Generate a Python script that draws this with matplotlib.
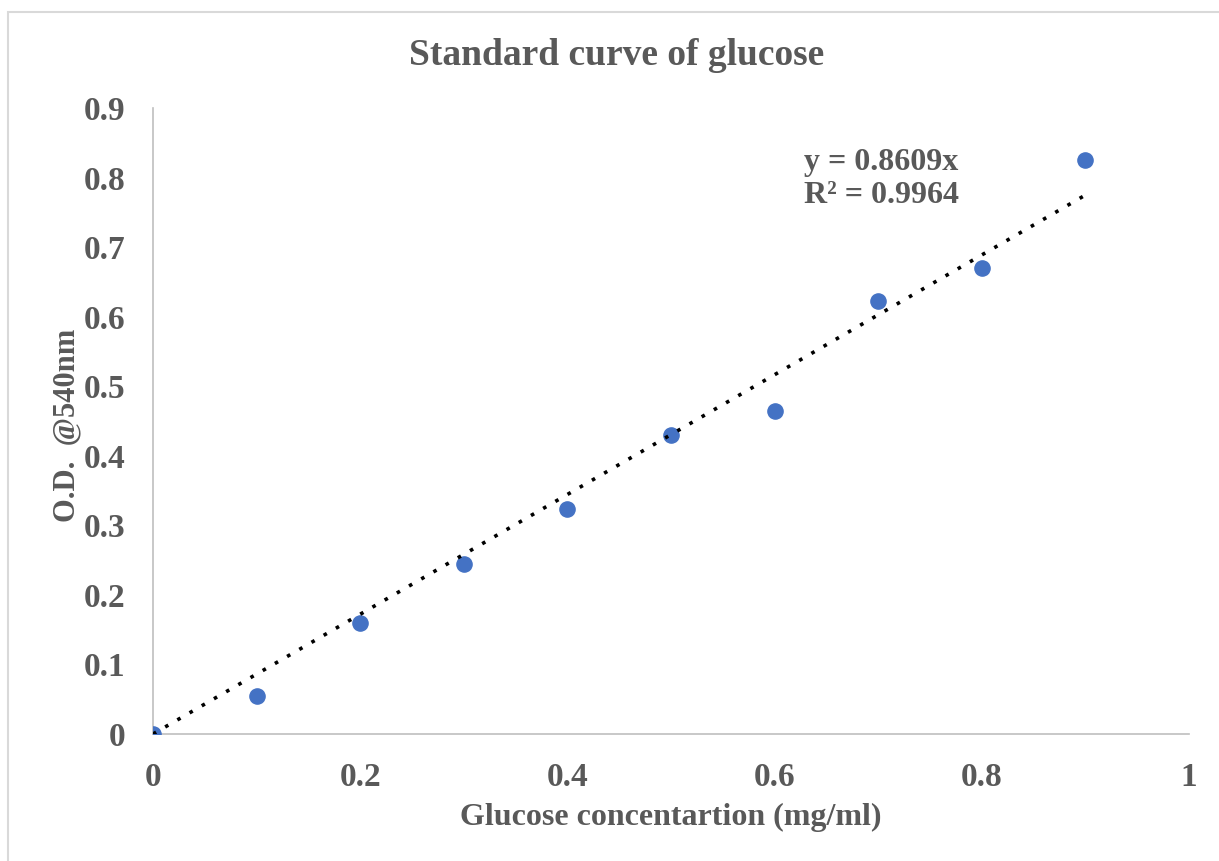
import matplotlib
matplotlib.use('Agg')
import matplotlib.pyplot as plt
from matplotlib.patches import Rectangle

# glucose standards (mg/ml) and absorbance at 540 nm
concentration = [0.0, 0.1, 0.2, 0.3, 0.4, 0.5, 0.6, 0.7, 0.8, 0.9]
absorbance = [0.0, 0.055, 0.160, 0.244, 0.323, 0.430, 0.464, 0.622, 0.670, 0.825]

# linear fit through the origin
slope = 0.8609
r_squared = 0.9964

x_ticks = [0, 0.2, 0.4, 0.6, 0.8, 1]
y_ticks = [0, 0.1, 0.2, 0.3, 0.4, 0.5, 0.6, 0.7, 0.8, 0.9]

grey = '#595959'
plt.rcParams['font.family'] = ['Liberation Serif', 'DejaVu Serif']
plt.rcParams['font.weight'] = 'bold'

fig = plt.figure(figsize=(12.19, 8.61), dpi=100)
ax = fig.add_axes([0.1255, 0.1475, 0.8499, 0.7271])

# chart border
fig.patches.append(Rectangle((8 / 1219, -0.05), 1.1, 1 - 12 / 861 + 0.05,
                             transform=fig.transFigure, fill=False,
                             edgecolor='#d9d9d9', linewidth=1.5))

ax.scatter(concentration, absorbance, s=120, color='#4472C4', zorder=3)

fit_x = [concentration[0], concentration[-1]]
fit_y = [slope * v for v in fit_x]
ax.plot(fit_x, fit_y, color='black', linewidth=2.6, linestyle=(0, (1, 2.9)), zorder=4)

ax.text(0.628, 0.798, 'y = {:.4f}x\nR² = {:.4f}'.format(slope, r_squared),
        fontsize=23, color=grey, fontweight='bold', linespacing=1.2,
        va='center', ha='left')

ax.set_xlim(0, 1)
ax.set_ylim(0, 0.9)
ax.set_xticks(x_ticks)
ax.set_yticks(y_ticks)
ax.set_xticklabels(['{:g}'.format(t) for t in x_ticks])
ax.set_yticklabels(['{:g}'.format(t) for t in y_ticks])
ax.tick_params(length=0, labelsize=24, labelcolor=grey)
ax.tick_params(axis='x', pad=20)
ax.tick_params(axis='y', pad=20)

for side in ['top', 'right']:
    ax.spines[side].set_visible(False)
for side in ['left', 'bottom']:
    ax.spines[side].set_color('#bfbfbf')
    ax.spines[side].set_linewidth(1.2)

fig.text(0.506, 0.935, 'Standard curve of glucose', ha='center', va='center',
         fontsize=27, color=grey, fontweight='bold')
fig.text(0.55, 0.051, 'Glucose concentartion (mg/ml)', ha='center', va='center',
         fontsize=23, color=grey, fontweight='bold')
fig.text(0.055, 0.506, 'O.D.  @540nm', ha='center', va='center', rotation=90,
         fontsize=22, color=grey, fontweight='bold')

fig.savefig('out.png', dpi=100)
